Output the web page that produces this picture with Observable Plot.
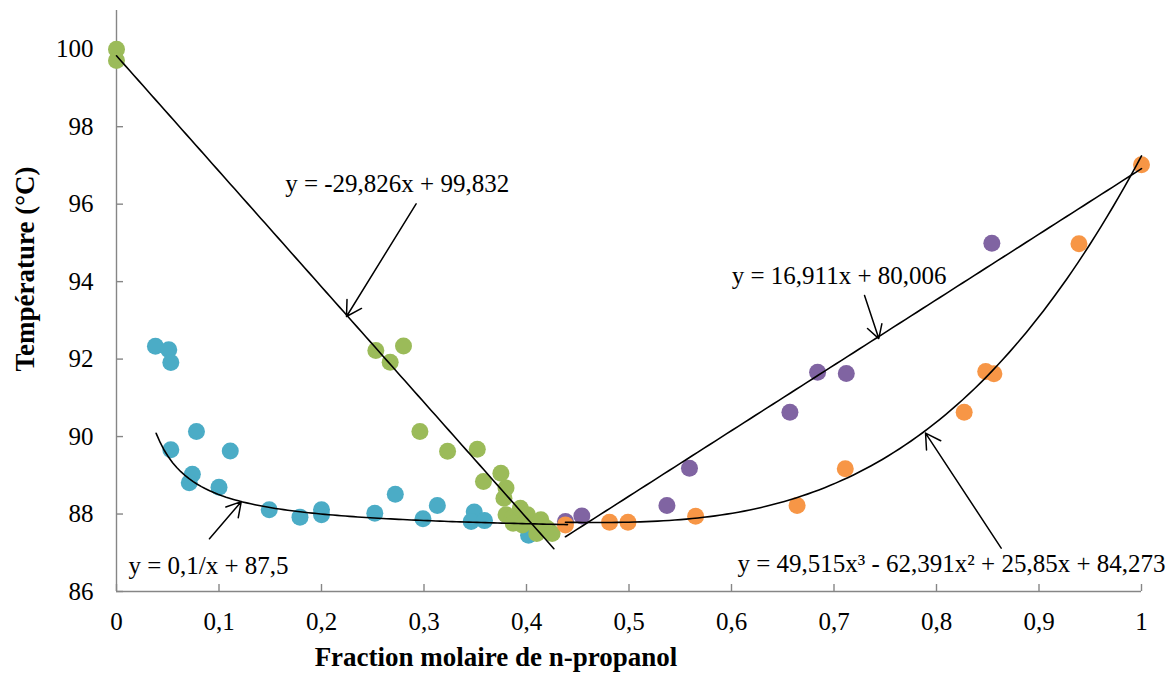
<!DOCTYPE html>
<html><head><meta charset="utf-8">
<script src="https://cdn.jsdelivr.net/npm/d3@7"></script>
<script src="https://cdn.jsdelivr.net/npm/@observablehq/plot@0.6"></script>
<style>body{margin:0;background:#fff}</style>
</head><body><div id="chart"></div>
<script>
// Tick values
const xTicks = [0, 0.1, 0.2, 0.3, 0.4, 0.5, 0.6, 0.7, 0.8, 0.9, 1];
const yTicks = [86, 88, 90, 92, 94, 96, 98, 100];

// Series
const blueX = [0.038,0.051,0.053,0.053,0.078,0.111,0.074,0.071,0.100,0.149,0.179,0.200,0.200,0.252,0.272,0.299,0.313,0.349,0.346,0.359,0.402];
const blueY = [92.33,92.24,91.91,89.66,90.13,89.63,89.03,88.81,88.69,88.11,87.92,88.11,87.98,88.02,88.51,87.88,88.22,88.05,87.81,87.83,87.45];

const greenX = [0,0,0.253,0.267,0.280,0.296,0.323,0.352,0.358,0.375,0.380,0.378,0.380,0.386,0.387,0.394,0.401,0.396,0.409,0.414,0.420,0.425,0.410];
const greenY = [100,99.71,92.22,91.92,92.34,90.13,89.62,89.67,88.84,89.05,88.67,88.41,87.98,87.89,87.76,88.15,87.98,87.72,87.72,87.85,87.63,87.50,87.50];

const purpleX = [0.438,0.454,0.537,0.559,0.657,0.684,0.712,0.854];
const purpleY = [87.81,87.95,88.22,89.18,90.63,91.66,91.63,94.99];

const orangeX = [0.438,0.481,0.499,0.565,0.664,0.711,0.827,0.848,0.856,0.939,1.0];
const orangeY = [87.72,87.79,87.79,87.94,88.22,89.17,90.63,91.68,91.62,94.98,97.02];

// Trendline equations shown on the chart and their x extents
const linVapCoef = [-29.826, 99.832], linVapRange = [0, 0.4267];
const linLiqCoef = [16.911, 80.006], linLiqRange = [0.438, 1];
const invCoef = [0.1, 87.5], invRange = [0.0387, 0.44];
const cubicCoef = [49.515, -62.391, 25.85, 84.273], cubicRange = [0.438, 1];

// Equation labels and their arrows
const eqLabels = ["y = -29,826x + 99,832", "y = 16,911x + 80,006", "y = 0,1/x + 87,5", "y = 49,515x³ - 62,391x² + 25,85x + 84,273"];
const eqX = [0.2738, 0.705, 0.0898, 0.8146];
const eqY = [96.53, 94.15, 86.66, 86.70];
const arX1 = [0.2923, 0.7298, 0.0907, 0.8631];
const arY1 = [96.01, 93.64, 87.36, 87.12];
const arX2 = [0.2244, 0.7437, 0.1217, 0.7893];
const arY2 = [93.10, 92.53, 88.32, 90.09];

const xTitle = "Fraction molaire de n-propanol";
const yTitle = "Température (°C)";

const pts = (X, Y) => X.map((x, i) => ({x, y: Y[i]}));
const sample = (range, f) => d3.range(0, 101).map(i => { const x = range[0] + (range[1] - range[0]) * i / 100; return {x, y: f(x)}; });

const linVap = sample(linVapRange, x => linVapCoef[0] * x + linVapCoef[1]);
const linLiq = sample(linLiqRange, x => linLiqCoef[0] * x + linLiqCoef[1]);
const inv = sample(invRange, x => invCoef[0] / x + invCoef[1]);
const cubic = sample(cubicRange, x => cubicCoef[0] * x ** 3 + cubicCoef[1] * x ** 2 + cubicCoef[2] * x + cubicCoef[3]);

const labels = eqLabels.map((t, i) => ({t, x: eqX[i], y: eqY[i]}));
const arrows = eqLabels.map((t, i) => ({x1: arX1[i], y1: arY1[i], x2: arX2[i], y2: arY2[i]}));

const axisColor = "#868686";

const chart = Plot.plot({
  width: 1175, height: 673,
  marginLeft: 116, marginRight: 34, marginTop: 10, marginBottom: 82,
  x: {domain: [0, 1]},
  y: {domain: [86, 101]},
  style: {fontFamily: "'Liberation Serif', serif", fontSize: "25px", background: "#fff", color: "#000", overflow: "visible"},
  marks: [
    Plot.ruleX([0], {stroke: axisColor, strokeWidth: 1.4}),
    Plot.ruleY([86], {stroke: axisColor, strokeWidth: 1.4}),
    Plot.tickX(xTicks, {x: d => d, insetTop: 574, stroke: axisColor, strokeWidth: 1.4}),
    Plot.tickY(yTicks, {y: d => d, insetRight: 1018, stroke: axisColor, strokeWidth: 1.4}),
    Plot.axisX(xTicks, {tickSize: 0, tickPadding: 21, tickFormat: d => String(d).replace(".", ","), label: null}),
    Plot.axisY(yTicks, {tickSize: 0, tickPadding: 23, tickFormat: d => String(d), label: null}),
    Plot.dot(pts(blueX, blueY), {x: "x", y: "y", r: 8.5, fill: "#4BACC6"}),
    Plot.dot(pts(greenX, greenY), {x: "x", y: "y", r: 8.5, fill: "#9BBB59"}),
    Plot.dot(pts(purpleX, purpleY), {x: "x", y: "y", r: 8.5, fill: "#8064A2"}),
    Plot.dot(pts(orangeX, orangeY), {x: "x", y: "y", r: 8.5, fill: "#F79646"}),
    Plot.line(linVap, {x: "x", y: "y", stroke: "#000", strokeWidth: 1.6}),
    Plot.line(linLiq, {x: "x", y: "y", stroke: "#000", strokeWidth: 1.6}),
    Plot.line(inv, {x: "x", y: "y", stroke: "#000", strokeWidth: 1.6}),
    Plot.line(cubic, {x: "x", y: "y", stroke: "#000", strokeWidth: 1.6}),
    Plot.arrow(arrows, {x1: "x1", y1: "y1", x2: "x2", y2: "y2", stroke: "#000", strokeWidth: 1.5, headLength: 17}),
    Plot.text(labels, {x: "x", y: "y", text: "t", textAnchor: "middle", lineAnchor: "middle", fill: "#000"}),
    Plot.text([xTitle], {text: d => d, frameAnchor: "bottom", textAnchor: "middle", dx: -133, dy: 74, lineAnchor: "bottom", fontWeight: "bold", fontSize: 27, fill: "#000"}),
    Plot.text([yTitle], {text: d => d, frameAnchor: "left", textAnchor: "middle", rotate: -90, dx: -91, dy: -32, lineAnchor: "middle", fontWeight: "bold", fontSize: 27, letterSpacing: "2px", fill: "#000"})
  ]
});
document.getElementById("chart").appendChild(chart);
</script>
</body></html>
